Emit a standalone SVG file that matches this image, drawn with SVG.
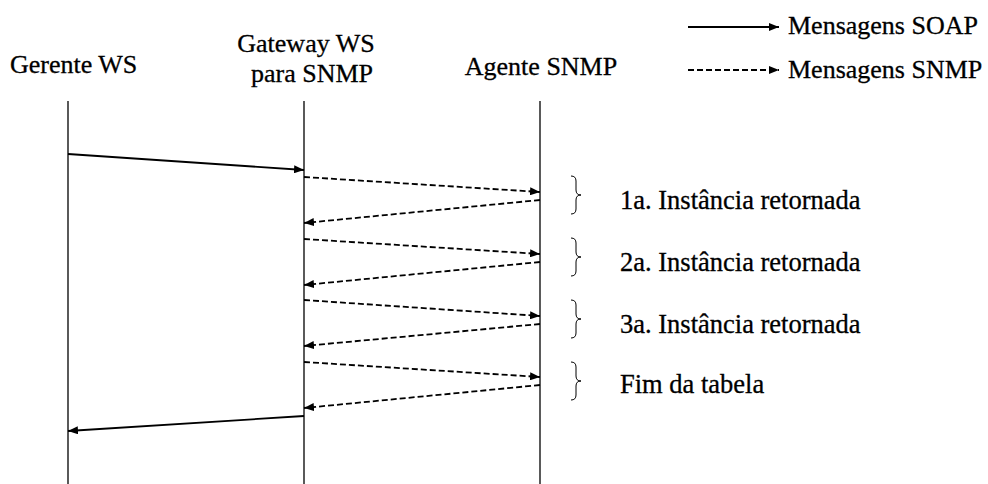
<svg xmlns="http://www.w3.org/2000/svg" width="988" height="484" viewBox="0 0 988 484">
  <style>
    text { fill: #000; stroke: #000; stroke-width: 0.3px; }
    .head { font-size: 26px; }
    .lab { font-size: 26.5px; }
    .life { stroke: #000; stroke-width: 1.3; fill: none; }
    .soap { stroke: #000; stroke-width: 1.8; fill: none; marker-end: url(#ah); }
    .snmp { stroke: #000; stroke-width: 1.8; fill: none; stroke-dasharray: 6 3; marker-end: url(#ah); }
    .brace { stroke: #000; stroke-width: 1; fill: none; }
  </style>
  <defs>
    <marker id="ah" viewBox="0 0 10 8" refX="10" refY="4" markerWidth="10" markerHeight="8" markerUnits="userSpaceOnUse" orient="auto">
      <path d="M0,0 L10,4 L0,8 Z" fill="#000"/>
    </marker>
  </defs>

  <rect width="988" height="484" fill="#fff"/>

  <!-- participants with lifelines -->
  <g id="gerente">
    <text class="head" x="10" y="73" font-family="serif">Gerente WS</text>
    <line class="life" x1="68" y1="101" x2="68" y2="484"/>
  </g>
  <g id="gateway">
    <text class="head" x="306" y="52" text-anchor="middle" font-family="Liberation Serif, Times New Roman, serif">Gateway WS</text>
    <text class="head" x="312" y="82" text-anchor="middle" font-family="Liberation Serif, Times New Roman, serif">para SNMP</text>
    <line class="life" x1="304" y1="101" x2="304" y2="484"/>
  </g>
  <g id="agente">
    <text class="head" x="541" y="75" text-anchor="middle" font-family="Liberation Serif, Times New Roman, serif">Agente SNMP</text>
    <line class="life" x1="540" y1="101" x2="540" y2="484"/>
  </g>

  <!-- legend -->
  <g id="legend">
    <line class="soap" x1="688" y1="27" x2="779" y2="27"/>
    <text class="head" x="788" y="34" font-family="Liberation Serif, Times New Roman, serif">Mensagens SOAP</text>
    <line class="snmp" x1="688" y1="70" x2="779" y2="70"/>
    <text class="head" x="788" y="78" font-family="Liberation Serif, Times New Roman, serif">Mensagens SNMP</text>
  </g>

  <!-- messages -->
  <g id="connectors">
    <line class="soap" x1="68" y1="154" x2="304" y2="170"/>
    <line class="snmp" x1="304" y1="177" x2="540" y2="192"/>
    <line class="snmp" x1="540" y1="200" x2="304" y2="223"/>
    <line class="snmp" x1="304" y1="239" x2="540" y2="254"/>
    <line class="snmp" x1="540" y1="262" x2="304" y2="285"/>
    <line class="snmp" x1="304" y1="300" x2="540" y2="316"/>
    <line class="snmp" x1="540" y1="324" x2="304" y2="346"/>
    <line class="snmp" x1="304" y1="362" x2="540" y2="377"/>
    <line class="snmp" x1="540" y1="385" x2="304" y2="408"/>
    <line class="soap" x1="304" y1="416" x2="68" y2="431"/>
  </g>

  <!-- braces with annotations -->
  <g id="inst1">
    <path class="brace" d="M571,176 Q576,176 576,181 L576,190 Q576,195 581,195 Q576,195 576,200 L576,209 Q576,214 571,214"/>
    <text class="lab" x="620" y="209" font-family="Liberation Serif, Times New Roman, serif">1a. Instância retornada</text>
  </g>
  <g id="inst2">
    <path class="brace" d="M571,238 Q576,238 576,243 L576,252 Q576,257 581,257 Q576,257 576,262 L576,271 Q576,276 571,276"/>
    <text class="lab" x="620" y="271" font-family="Liberation Serif, Times New Roman, serif">2a. Instância retornada</text>
  </g>
  <g id="inst3">
    <path class="brace" d="M571,300 Q576,300 576,305 L576,314 Q576,319 581,319 Q576,319 576,324 L576,333 Q576,338 571,338"/>
    <text class="lab" x="620" y="333" font-family="Liberation Serif, Times New Roman, serif">3a. Instância retornada</text>
  </g>
  <g id="fim">
    <path class="brace" d="M571,362 Q576,362 576,367 L576,376 Q576,381 581,381 Q576,381 576,386 L576,395 Q576,400 571,400"/>
    <text class="lab" x="620" y="393" font-family="Liberation Serif, Times New Roman, serif">Fim da tabela</text>
  </g>
</svg>
